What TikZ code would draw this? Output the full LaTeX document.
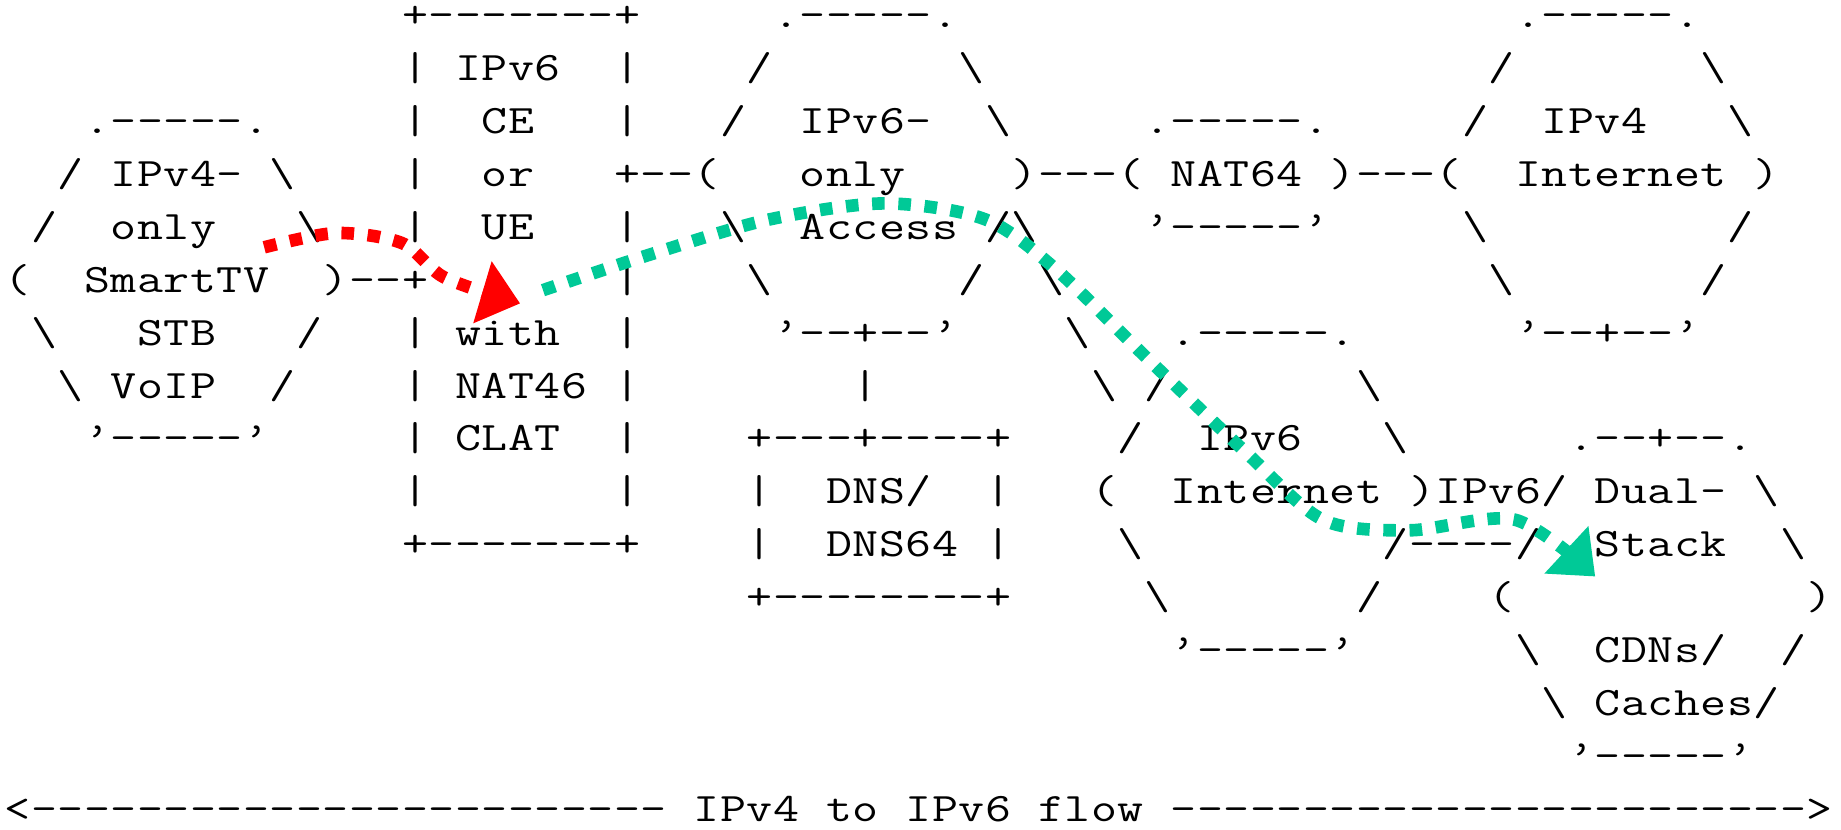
\documentclass[tikz,border=0pt]{standalone}
\usepackage{graphicx}
\usepackage{tikz}
\usetikzlibrary{arrows.meta}
\definecolor{flowred}{RGB}{255,0,0}
\definecolor{flowgreen}{RGB}{0,201,151}
\newlength\cw
\setlength\cw{10.5pt}
% every character gets one fixed cell
\def\cells#1{\cellsloop#1\relax}
\def\cellsloop#1{\ifx#1\relax\else\makebox[\cw]{\scalebox{1.25}[1]{#1}}\expandafter\cellsloop\fi}
\newcommand\gap[1]{\hspace*{#1\cw}}
\newcommand\bsl{\textbackslash}
\tikzset{
  artrow/.style={anchor=base west, inner sep=0pt, outer sep=0pt, font=\ttfamily\fontsize{16}{20}\selectfont},
  flow/.style={line width=5pt, dash pattern=on 5pt off 5.4pt, -{Triangle[length=15.5pt, width=25.7pt, line width=0pt]}},
  v4flow/.style={flow, draw=flowred},
  v6flow/.style={flow, draw=flowgreen}
}
\begin{document}
\begin{tikzpicture}[x=10.5pt, y=20.96pt]
\path[fill=white] (-0.17,0.525) rectangle (69.30,-15.146);
\useasboundingbox (-0.17,0.525) rectangle (69.30,-15.146);

\node[artrow] (r0) at (0,0) {\gap{15}\cells{+-------+}\gap{5}\cells{.-----.}\gap{21}\cells{.-----.}};
\node[artrow] (r1) at (0,-1) {\gap{15}\cells{|~IPv6~~|}\gap{4}\cells{/}\gap{7}\cells{\bsl}\gap{19}\cells{/}\gap{7}\cells{\bsl}};
\node[artrow] (r2) at (0,-2) {\gap{3}\cells{.-----.}\gap{5}\cells{|~~CE~~~|}\gap{3}\cells{/}\gap{2}\cells{IPv6-}\gap{2}\cells{\bsl}\gap{5}\cells{.-----.}\gap{5}\cells{/}\gap{2}\cells{IPv4}\gap{3}\cells{\bsl}};
\node[artrow] (r3) at (0,-3) {\gap{2}\cells{/~IPv4-~\bsl}\gap{4}\cells{|~~or~~~+--(}\gap{3}\cells{only}\gap{4}\cells{)---(~NAT64~)---(}\gap{2}\cells{Internet}\gap{1}\cells{)}};
\node[artrow] (r4) at (0,-4) {\gap{1}\cells{/}\gap{2}\cells{only}\gap{3}\cells{\bsl}\gap{3}\cells{|~~UE~~~|}\gap{3}\cells{\bsl}\gap{2}\cells{Access}\gap{1}\cells{/\bsl}\gap{4}\cells{’-----’}\gap{5}\cells{\bsl}\gap{9}\cells{/}};
\node[artrow] (r5) at (0,-5) {\cells{(~~SmartTV~~)--+}\gap{7}\cells{|}\gap{4}\cells{\bsl}\gap{7}\cells{/}\gap{2}\cells{\bsl}\gap{16}\cells{\bsl}\gap{7}\cells{/}};
\node[artrow] (r6) at (0,-6) {\gap{1}\cells{\bsl}\gap{3}\cells{STB}\gap{3}\cells{/}\gap{3}\cells{|~with~~|}\gap{5}\cells{’--+--’}\gap{4}\cells{\bsl}\gap{3}\cells{.-----.}\gap{6}\cells{’--+--’}};
\node[artrow] (r7) at (0,-7) {\gap{2}\cells{\bsl~VoIP}\gap{2}\cells{/}\gap{4}\cells{|~NAT46~|}\gap{8}\cells{|}\gap{8}\cells{\bsl~/}\gap{7}\cells{\bsl}};
\node[artrow] (r8) at (0,-8) {\gap{3}\cells{’-----’}\gap{5}\cells{|~CLAT~~|}\gap{4}\cells{+---+----+}\gap{4}\cells{/}\gap{2}\cells{IPv6}\gap{3}\cells{\bsl}\gap{6}\cells{.--+--.}};
\node[artrow] (r9) at (0,-9) {\gap{15}\cells{|}\gap{7}\cells{|}\gap{4}\cells{|~~DNS/~~|}\gap{3}\cells{(}\gap{2}\cells{Internet~)IPv6/~Dual-~\bsl}};
\node[artrow] (r10) at (0,-10) {\gap{15}\cells{+-------+}\gap{4}\cells{|~~DNS64~|}\gap{4}\cells{\bsl}\gap{9}\cells{/----/}\gap{2}\cells{Stack}\gap{2}\cells{\bsl}};
\node[artrow] (r11) at (0,-11) {\gap{28}\cells{+--------+}\gap{5}\cells{\bsl}\gap{7}\cells{/}\gap{4}\cells{(}\gap{11}\cells{)}};
\node[artrow] (r12) at (0,-12) {\gap{44}\cells{’-----’}\gap{6}\cells{\bsl}\gap{2}\cells{CDNs/}\gap{2}\cells{/}};
\node[artrow] (r13) at (0,-13) {\gap{58}\cells{\bsl~Caches/}};
\node[artrow] (r14) at (0,-14) {\gap{59}\cells{’-----’}};
\node[artrow] (r15) at (0,-15) {\cells{<------------------------}\gap{1}\cells{IPv4~to~IPv6~flow}\gap{1}\cells{------------------------>}};

\coordinate (tvOut) at (9.8,-4.15);
\coordinate (ceIn) at (19.45,-5.21);
\coordinate (ceOut) at (20.32,-4.96);
\coordinate (dsIn) at (60.02,-10.37);

\draw[v4flow] plot[smooth] coordinates {(tvOut) (12.5,-3.88) (15.0,-4.07) (16.6,-4.72) (ceIn)};
\draw[v6flow] plot[smooth] coordinates {(ceOut) (24.4,-4.28) (28.8,-3.63) (33.2,-3.32) (37.0,-3.62) (39.64,-4.55) (43.04,-6.21) (46.81,-8.01) (49.75,-9.30) (53.0,-9.5) (57.0,-9.3) (dsIn)};
\end{tikzpicture}
\end{document}
